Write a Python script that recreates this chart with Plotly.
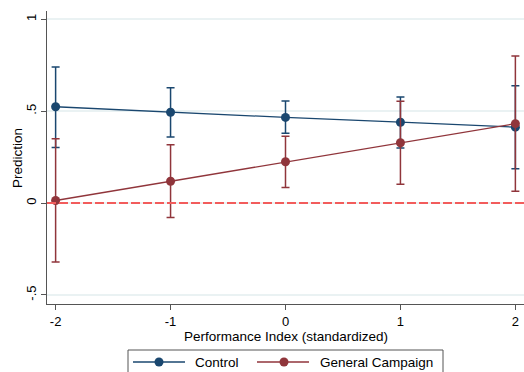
import plotly.graph_objects as go

x_vals = [-2, -1, 0, 1, 2]

control_pred = [0.524, 0.494, 0.466, 0.440, 0.413]
control_lo = [0.303, 0.360, 0.380, 0.300, 0.187]
control_hi = [0.741, 0.627, 0.555, 0.577, 0.638]

campaign_pred = [0.014, 0.119, 0.225, 0.328, 0.432]
campaign_lo = [-0.320, -0.079, 0.085, 0.103, 0.065]
campaign_hi = [0.350, 0.317, 0.364, 0.554, 0.800]

series_names = ["Control", "General Campaign"]

y_tickvals = [-0.5, 0, 0.5, 1]
y_ticktext = ["-.5", "0", ".5", "1"]
x_tickvals = [-2, -1, 0, 1, 2]
x_ticktext = ["-2", "-1", "0", "1", "2"]
x_title = "Performance Index (standardized)"
y_title = "Prediction"
ref_line_y = 0

BLUE = "#1a476f"
RED = "#90353b"
AXIS = "#555555"
FONT = "Liberation Sans, Arial, sans-serif"

W, H = 524, 372
ML, MR, MT, MB = 47, 0, 11, 68
PW, PH = W - ML - MR, H - MT - MB


def px_x(px):
    return (px - ML) / PW


def px_y(py):
    return (H - MB - py) / PH


fig = go.Figure()


def add_series(name, pred, lo, hi, color):
    fig.add_trace(go.Scatter(
        x=x_vals, y=pred, name=name, mode="lines+markers",
        line=dict(color=color, width=1.3),
        marker=dict(color=color, size=9),
        cliponaxis=False,
        error_y=dict(type="data", symmetric=False,
                     array=[h - p for h, p in zip(hi, pred)],
                     arrayminus=[p - l for p, l in zip(pred, lo)],
                     color=color, thickness=1.5, width=4),
    ))


add_series(series_names[0], control_pred, control_lo, control_hi, BLUE)
add_series(series_names[1], campaign_pred, campaign_lo, campaign_hi, RED)

shapes = [dict(type="line", xref="paper", yref="y", x0=0, x1=1,
               y0=ref_line_y, y1=ref_line_y, layer="above",
               line=dict(color="#f25c5c", width=2, dash="9px,3px"))]

# hand-drawn legend box (Stata style, cut off at the bottom edge)
bx0, bx1, by_top, by_bot = 128, 443, 350, 372
for (ax0, ay0, ax1, ay1) in [(bx0, by_top, bx1, by_top),
                             (bx0, by_top, bx0, by_bot),
                             (bx1, by_top, bx1, by_bot)]:
    shapes.append(dict(type="line", xref="paper", yref="paper",
                       x0=px_x(ax0), y0=px_y(ay0), x1=px_x(ax1), y1=px_y(ay1),
                       line=dict(color=AXIS, width=1)))
annotations = [
    dict(text=x_title, xref="paper", yref="paper", x=px_x(285.5), y=px_y(336),
         xanchor="center", yanchor="middle", showarrow=False,
         font=dict(size=13.5, color="black")),
    dict(text=y_title, xref="paper", yref="paper", x=px_x(17), y=px_y(158),
         xanchor="center", yanchor="middle", showarrow=False, textangle=-90,
         font=dict(size=13.5, color="black")),
]
legend_items = [(133, 185, 159, 193, BLUE, series_names[0]),
                (257, 309, 284, 318, RED, series_names[1])]
ly = px_y(362)
for x0, x1, xc, xt, col, label in legend_items:
    shapes.append(dict(type="line", xref="paper", yref="paper",
                       x0=px_x(x0), x1=px_x(x1), y0=ly, y1=ly,
                       line=dict(color=col, width=1.3)))
    shapes.append(dict(type="circle", xref="paper", yref="paper",
                       x0=px_x(xc - 4.5), x1=px_x(xc + 4.5),
                       y0=px_y(362 + 4.5), y1=px_y(362 - 4.5),
                       line=dict(color=col, width=0), fillcolor=col))
    annotations.append(dict(text=label, xref="paper", yref="paper",
                            x=px_x(xt), y=ly, xanchor="left", yanchor="middle",
                            showarrow=False, font=dict(size=13.5, color="black")))

fig.update_layout(
    width=W, height=H,
    margin=dict(l=ML, r=MR, t=MT, b=MB),
    paper_bgcolor="white", plot_bgcolor="white",
    font=dict(family=FONT, size=13, color="black"),
    showlegend=False,
    shapes=shapes, annotations=annotations,
    xaxis=dict(range=[-2.075, 2.075], tickvals=x_tickvals, ticktext=x_ticktext,
               showgrid=False, zeroline=False, showline=True, linecolor=AXIS,
               linewidth=1, ticks="outside", ticklen=5, tickcolor=AXIS,
               automargin=False, tickfont=dict(size=13)),
    yaxis=dict(range=[-0.549, 1.045], tickvals=y_tickvals, ticktext=y_ticktext,
               tickangle=-90, showgrid=True, gridcolor="#eaf2f3", gridwidth=1.5,
               zeroline=False, showline=True, linecolor=AXIS, linewidth=1,
               ticks="outside", ticklen=5, tickcolor=AXIS, automargin=False,
               tickfont=dict(size=13)),
)

fig.write_html("out.html", config={"displayModeBar": False},
               post_script="document.body.style.margin='0';"
                           "document.body.style.overflow='hidden';")
